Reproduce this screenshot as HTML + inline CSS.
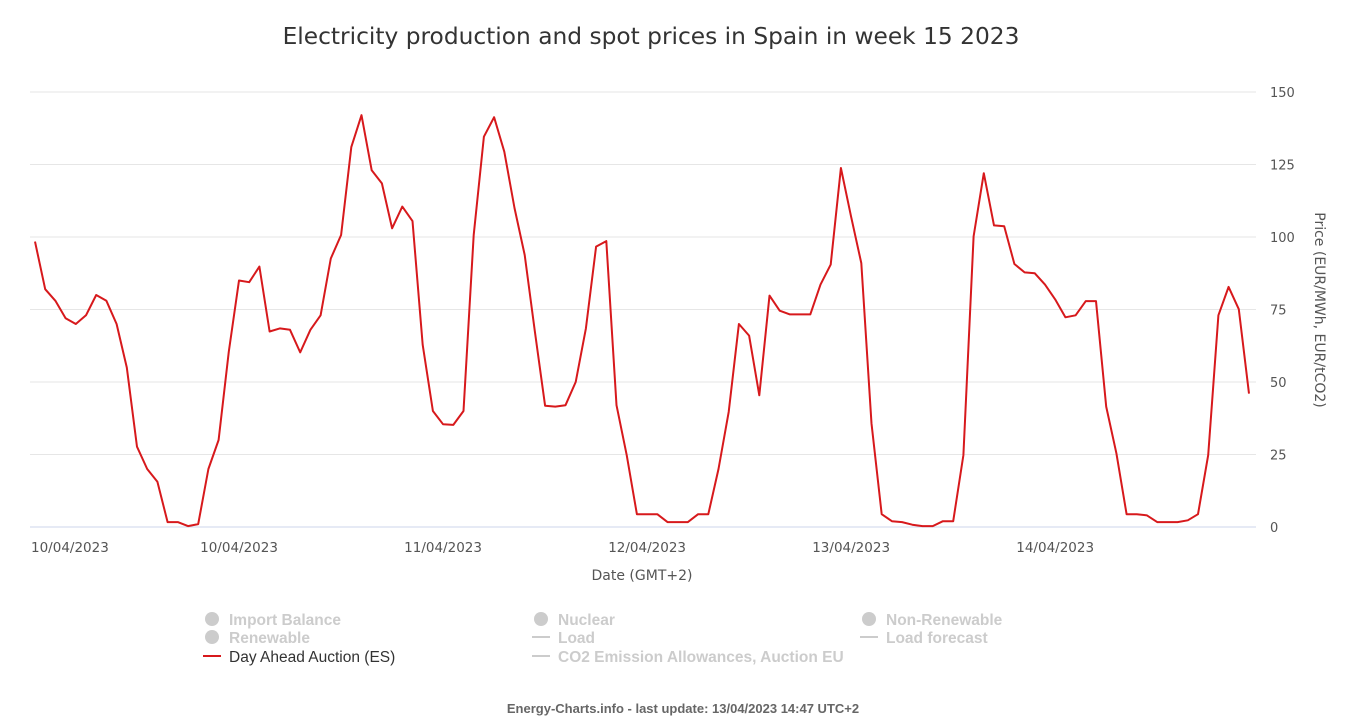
<!DOCTYPE html>
<html><head><meta charset="utf-8"><style>
body{margin:0;background:#fff;font-family:"Liberation Sans","DejaVu Sans",sans-serif;}
svg text{font-family:"DejaVu Sans","Liberation Sans",sans-serif;}
svg .lib{font-family:"Liberation Sans","DejaVu Sans",sans-serif;}
</style></head><body>
<svg id="chart" width="1352" height="722">
<text x="651" y="44" text-anchor="middle" font-size="23.3" fill="#333">Electricity production and spot prices in Spain in week 15 2023</text>
<g id="grid"></g>
<g id="xlabels"></g>
<text x="642" y="580" text-anchor="middle" font-size="14" fill="#555">Date (GMT+2)</text>
<text transform="translate(1315,310) rotate(90)" text-anchor="middle" font-size="14" fill="#555">Price (EUR/MWh, EUR/tCO2)</text>
<g id="series"></g>
<g class="lib" font-size="15.5" font-weight="bold">
<g><circle cx="212" cy="619" r="7" fill="#ccc"/><text class="lib" x="229" y="625" fill="#ccc">Import Balance</text></g>
<g><circle cx="212" cy="637" r="7" fill="#ccc"/><text class="lib" x="229" y="643" fill="#ccc">Renewable</text></g>
<g><line x1="203" y1="656" x2="221" y2="656" stroke="#d7191c" stroke-width="2"/><text class="lib" x="229" y="662" fill="#333" font-weight="normal">Day Ahead Auction (ES)</text></g>
<g><circle cx="541" cy="619" r="7" fill="#ccc"/><text class="lib" x="558" y="625" fill="#ccc">Nuclear</text></g>
<g><line x1="532" y1="637" x2="550" y2="637" stroke="#ccc" stroke-width="2"/><text class="lib" x="558" y="643" fill="#ccc">Load</text></g>
<g><line x1="532" y1="656" x2="550" y2="656" stroke="#ccc" stroke-width="2"/><text class="lib" x="558" y="662" fill="#ccc">CO2 Emission Allowances, Auction EU</text></g>
<g><circle cx="869" cy="619" r="7" fill="#ccc"/><text class="lib" x="886" y="625" fill="#ccc">Non-Renewable</text></g>
<g><line x1="860" y1="637" x2="878" y2="637" stroke="#ccc" stroke-width="2"/><text class="lib" x="886" y="643" fill="#ccc">Load forecast</text></g>
</g>
<text class="lib" x="683" y="713" text-anchor="middle" font-size="13" font-weight="bold" fill="#666">Energy-Charts.info - last update: 13/04/2023 14:47 UTC+2</text>
</svg>
<script>
const prices=[98.4,82,78,72,70,73,80,78,70,55,27.7,20,15.6,1.7,1.7,0.3,1,20,30,60.5,
85,84.4,89.8,67.4,68.5,68,60.2,68,73,92.6,100.7,131,142,123,118.5,103,110.5,105.5,62.8,40,
35.4,35.2,40,100.7,134.6,141.3,129.4,110,93.8,67.3,41.8,41.5,42,50,68.5,96.7,98.6,42,24.8,4.4,
4.4,4.4,1.7,1.7,1.7,4.4,4.4,20,39.7,70,66,45.4,79.8,74.6,73.3,73.3,73.3,83.6,90.5,123.8,
107,91,35.7,4.4,2,1.7,0.8,0.3,0.3,2,2,24.8,100.2,122,104,103.7,90.7,87.8,87.5,83.6,
78.5,72.3,73,77.9,77.9,41.5,25.4,4.4,4.4,4,1.7,1.7,1.7,2.3,4.4,24.8,73,82.8,75.1,46];
const yTicks=[0,25,50,75,100,125,150];
const xTickIdx=[20,40,60,80,100];
const xTickLabels=["10/04/2023","11/04/2023","12/04/2023","13/04/2023","14/04/2023"];
const firstLabel="10/04/2023";
const NS="http://www.w3.org/2000/svg";
const X0=35,X1=1249,Y0=527,Y1=92,YMAX=150;
function xs(i){return X0+(X1-X0)*i/(prices.length-1);}
function ys(v){return Y0-(Y0-Y1)*v/YMAX;}
const grid=document.getElementById('grid');
yTicks.forEach(t=>{
 const l=document.createElementNS(NS,'line');
 l.setAttribute('x1',30);l.setAttribute('x2',1256);
 l.setAttribute('y1',ys(t));l.setAttribute('y2',ys(t));
 l.setAttribute('stroke',t===0?'#ccd6eb':'#e6e6e6');l.setAttribute('stroke-width',1);
 
 
 grid.appendChild(l);
 const tx=document.createElementNS(NS,'text');
 tx.setAttribute('x',1270);tx.setAttribute('y',ys(t)+5);
 tx.setAttribute('font-size',13);tx.setAttribute('fill','#555');
 tx.textContent=t;
 
 
 grid.appendChild(tx);
});
const xl=document.getElementById('xlabels');
function addX(x,s,anchor){
 const tx=document.createElementNS(NS,'text');
 tx.setAttribute('x',x);tx.setAttribute('y',552);tx.setAttribute('text-anchor',anchor);
 tx.setAttribute('font-size',13.5);tx.setAttribute('fill','#555');tx.textContent=s;
 
 
 xl.appendChild(tx);
}
addX(31,firstLabel,'start');
xTickIdx.forEach((i,k)=>addX(xs(i),xTickLabels[k],'middle'));
const p=document.createElementNS(NS,'polyline');
p.setAttribute('points',prices.map((v,i)=>xs(i).toFixed(1)+','+ys(v).toFixed(1)).join(' '));
p.setAttribute('fill','none');p.setAttribute('stroke','#d7191c');p.setAttribute('stroke-width',2);
p.setAttribute('stroke-linejoin','round');


document.getElementById('series').appendChild(p);
</script>
</body></html>
